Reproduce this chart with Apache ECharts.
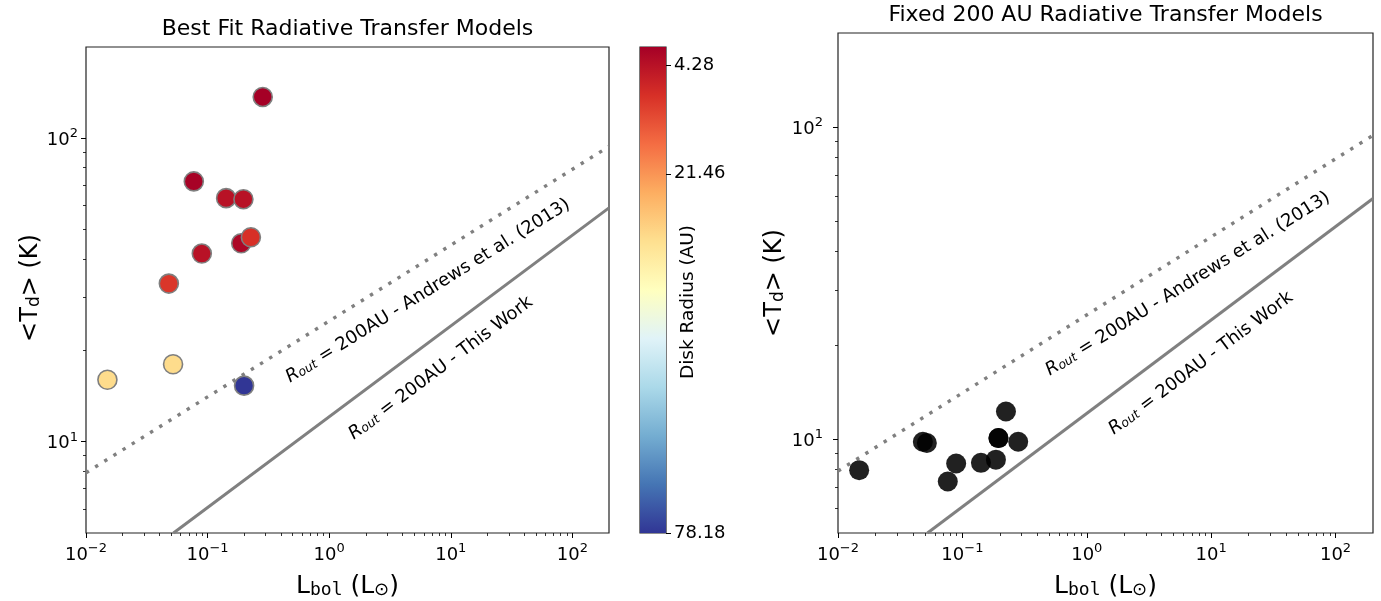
<!DOCTYPE html>
<html>
<head>
<meta charset="utf-8">
<script src="https://cdn.jsdelivr.net/npm/echarts@6.0.0/dist/echarts.min.js"></script>
<style>
  html, body { margin: 0; padding: 0; background: #fff; }
  #chart { width: 1381px; height: 601px; }
</style>
</head>
<body>
<div id="chart"></div>
<script>
// Bolometric luminosity (L_sun), best-fit mean dust temperature (K) and disk radius (AU)
const lumBestFit  = [0.0150, 0.0480, 0.0520, 0.0770, 0.0896, 0.142, 0.189, 0.197, 0.1995, 0.227, 0.284];
const tempBestFit = [16.0, 33.2, 18.0, 72.1, 41.7, 63.5, 45.1, 63.0, 15.3, 47.2, 136.9];
const diskRadius  = [31.5, 9.9, 31.5, 1.8, 4.28, 4.28, 2.5, 4.28, 78.18, 9.1, 1.44];

// Same sources with the outer radius fixed at 200 AU
const lumFixed  = [0.0148, 0.0481, 0.0518, 0.0763, 0.0891, 0.141, 0.186, 0.195, 0.195, 0.224, 0.281];
const tempFixed = [7.95, 9.80, 9.71, 7.31, 8.35, 8.39, 8.59, 10.07, 10.07, 12.25, 9.80];

// R_out = 200 AU relations (straight lines in log-log space)
const andrewsL  = [0.01, 200];
const andrewsT  = [7.9, 94.0];
const thisWorkL = [0.0524, 200];
const thisWorkT = [5.0, 59.0];

// Where the rotated line captions sit (data coordinates)
const andrewsCaptionAt  = [6.3, 32.0];
const thisWorkCaptionAt = [8.0, 17.8];

// Axis extents and tick labels
const lumRange   = [0.01, 200];
const tempRange  = [5, 200];
const lumExps    = [-2, -1, 0, 1, 2];
const tempExps   = [1, 2];
const radiusRange = [1.44, 78.18];
const radiusTicks = [4.28, 21.46, 78.18];
const rdYlBu = ['#a50026', '#d73027', '#f46d43', '#fdae61', '#fee090', '#ffffbf',
                '#e0f3f8', '#abd9e9', '#74add1', '#4575b4', '#313695'];

const FONT = 'DejaVu Sans';
const INK = '#000';
const FRAME = '#222';
const REF_GREY = '#808080';

const grids = [
  { left: 86,  top: 47, width: 523, height: 486 },  // best fit panel
  { left: 838, top: 33, width: 535, height: 500 },  // fixed 200 AU panel
  { left: 640, top: 47, width: 26,  height: 486 }   // colour bar
].map(g => Object.assign({ show: true, borderColor: FRAME, borderWidth: 1.2, backgroundColor: 'transparent', containLabel: false }, g));

function powLabel(v) {
  const e = Math.round(v);
  return '{b|10}{p|' + (e < 0 ? '\u2212' + (-e) : String(e)) + '}';
}
const powRich = {
  b: { fontSize: 18, fontFamily: FONT, color: INK, lineHeight: 22, verticalAlign: 'bottom' },
  p: { fontSize: 13, fontFamily: FONT, color: INK, lineHeight: 13, verticalAlign: 'top' }
};

function minorPositions(range) {
  const lo = Math.log10(range[0]), hi = Math.log10(range[1]);
  const out = [];
  for (let n = Math.floor(lo); n <= Math.ceil(hi); n++) {
    for (let k = 2; k <= 9; k++) {
      const v = n + Math.log10(k);
      if (v > lo + 1e-9 && v < hi - 1e-9) out.push(v);
    }
  }
  return out;
}

// For each panel dimension: a log axis carrying the data, plus two linear
// axes in log10 space that draw the decade ticks/labels and the minor ticks.
function panelAxes(dim, gridIndex, range, exps, labelMargin) {
  const lo = Math.log10(range[0]), hi = Math.log10(range[1]);
  const pos = dim === 'x' ? 'bottom' : 'left';
  const dataAxis = {
    type: 'log', logBase: 10, gridIndex, min: range[0], max: range[1], position: pos,
    axisLine: { show: false, onZero: false }, axisTick: { show: false },
    axisLabel: { show: false }, splitLine: { show: false }
  };
  const majorAxis = {
    type: 'value', gridIndex, min: lo, max: hi, position: pos, silent: true,
    axisLine: { show: false, onZero: false },
    axisTick: { show: true, customValues: exps, length: 5, lineStyle: { color: INK, width: 1 } },
    axisLabel: {
      show: true, customValues: exps, formatter: powLabel, rich: powRich,
      margin: labelMargin
    },
    splitLine: { show: false }
  };
  const minorAxis = {
    type: 'value', gridIndex, min: lo, max: hi, position: pos, silent: true,
    axisLine: { show: false, onZero: false },
    axisTick: { show: true, customValues: minorPositions(range), length: 3, lineStyle: { color: INK, width: 0.8 } },
    axisLabel: { show: false }, splitLine: { show: false }
  };
  return [dataAxis, majorAxis, minorAxis];
}

const xAxes = [
  ...panelAxes('x', 0, lumRange, lumExps, 9),
  ...panelAxes('x', 1, lumRange, lumExps, 9),
  { type: 'value', gridIndex: 2, min: 0, max: 1, show: false }
];
const yAxes = [
  ...panelAxes('y', 0, tempRange, tempExps, 8),
  ...panelAxes('y', 1, tempRange, tempExps, 15),
  {
    type: 'value', gridIndex: 2, min: radiusRange[0], max: radiusRange[1], inverse: true,
    position: 'right', silent: true,
    axisLine: { show: false, onZero: false },
    axisTick: { show: true, customValues: radiusTicks, length: 5, lineStyle: { color: INK, width: 1 } },
    axisLabel: {
      show: true, customValues: radiusTicks, margin: 8,
      formatter: v => v.toFixed(2), fontSize: 18, fontFamily: FONT, color: INK
    },
    splitLine: { show: false }
  }
];

const captionRich = {
  r: { fontSize: 18, fontFamily: FONT, fontStyle: 'italic', color: INK, lineHeight: 24, verticalAlign: 'bottom' },
  s: { fontSize: 12.5, fontFamily: FONT, fontStyle: 'italic', color: INK, lineHeight: 13, verticalAlign: 'bottom' },
  t: { fontSize: 18, fontFamily: FONT, color: INK, lineHeight: 24, verticalAlign: 'bottom' }
};

function caption(at, text, angle) {
  return {
    silent: true,
    symbol: 'circle', symbolSize: 1,
    itemStyle: { color: 'rgba(0,0,0,0)' },
    label: {
      show: true, position: 'inside', rotate: angle,
      formatter: '{r|R}{s|out}{t| = 200AU - ' + text + '}',
      rich: captionRich
    },
    data: [{ coord: at }]
  };
}

function refLines(xi, yi) {
  return [
    {
      type: 'line', xAxisIndex: xi, yAxisIndex: yi, silent: true, z: 1,
      showSymbol: false, symbol: 'none',
      data: andrewsL.map((l, i) => [l, andrewsT[i]]),
      lineStyle: { color: REF_GREY, width: 3.4, type: [3.4, 7.4], cap: 'butt' },
      markPoint: caption(andrewsCaptionAt, 'Andrews et al. (2013)', 32)
    },
    {
      type: 'line', xAxisIndex: xi, yAxisIndex: yi, silent: true, z: 1,
      showSymbol: false, symbol: 'none',
      data: thisWorkL.map((l, i) => [l, thisWorkT[i]]),
      lineStyle: { color: REF_GREY, width: 3 },
      markPoint: caption(thisWorkCaptionAt, 'This Work', 37)
    }
  ];
}

const cbStops = rdYlBu.map((c, i) => ({ offset: i / (rdYlBu.length - 1), color: c }));

const option = {
  backgroundColor: '#fff',
  animation: false,
  grid: grids,
  xAxis: xAxes,
  yAxis: yAxes,
  visualMap: {
    type: 'continuous', show: false, seriesIndex: 0, dimension: 2,
    min: radiusRange[0], max: radiusRange[1],
    inRange: { color: rdYlBu }
  },
  series: [
    {
      type: 'scatter', xAxisIndex: 0, yAxisIndex: 0, z: 3,
      symbolSize: 19,
      itemStyle: { borderColor: '#7f7f7f', borderWidth: 1.6, opacity: 1 },
      data: lumBestFit.map((l, i) => [l, tempBestFit[i], diskRadius[i]])
    },
    ...refLines(0, 0),
    {
      type: 'scatter', xAxisIndex: 3, yAxisIndex: 3, z: 3,
      symbolSize: 20,
      itemStyle: { color: '#000', opacity: 0.87 },
      data: lumFixed.map((l, i) => [l, tempFixed[i]])
    },
    ...refLines(3, 3),
    {
      type: 'custom', xAxisIndex: 6, yAxisIndex: 6, silent: true, z: 0,
      data: [[0, radiusRange[0], 1, radiusRange[1]]],
      renderItem: function (params, api) {
        const a = api.coord([api.value(0), api.value(1)]);
        const b = api.coord([api.value(2), api.value(3)]);
        return {
          type: 'rect',
          shape: {
            x: Math.min(a[0], b[0]), y: Math.min(a[1], b[1]),
            width: Math.abs(b[0] - a[0]), height: Math.abs(b[1] - a[1])
          },
          style: { fill: new echarts.graphic.LinearGradient(0, 0, 0, 1, cbStops) }
        };
      }
    }
  ],
  graphic: [
    {
      type: 'text', x: 347.5, y: 29,
      style: { text: 'Best Fit Radiative Transfer Models', fontSize: 22, fontFamily: FONT, fill: INK, align: 'center', verticalAlign: 'middle' }
    },
    {
      type: 'text', x: 1105.5, y: 15,
      style: { text: 'Fixed 200 AU Radiative Transfer Models', fontSize: 22, fontFamily: FONT, fill: INK, align: 'center', verticalAlign: 'middle' }
    },
    ...[[347.5, 584], [1105.5, 584]].map(p => ({
      type: 'text', x: p[0], y: p[1],
      style: {
        text: '{t|L}{m|bol}{t| (L}{o|\u2299}{t|)}',
        align: 'center', verticalAlign: 'middle', fill: INK,
        rich: {
          t: { fontSize: 25, fontFamily: FONT, fill: INK, lineHeight: 30, verticalAlign: 'bottom' },
          m: { fontSize: 18, fontFamily: 'DejaVu Sans Mono', fill: INK, lineHeight: 15, verticalAlign: 'bottom' },
          o: { fontSize: 18, fontFamily: FONT, fill: INK, lineHeight: 15, verticalAlign: 'bottom' }
        }
      }
    })),
    ...[[28, 288], [772, 283]].map(p => ({
      type: 'text', x: p[0], y: p[1], rotation: Math.PI / 2,
      style: {
        text: '{t|<T}{d|d}{t|> (K)}',
        align: 'center', verticalAlign: 'middle', fill: INK,
        rich: {
          t: { fontSize: 24, fontFamily: FONT, fill: INK, lineHeight: 30, verticalAlign: 'bottom' },
          d: { fontSize: 17, fontFamily: FONT, fill: INK, lineHeight: 15, verticalAlign: 'bottom' }
        }
      }
    })),
    {
      type: 'text', x: 688, y: 302, rotation: Math.PI / 2,
      style: { text: 'Disk Radius (AU)', fontSize: 18.5, fontFamily: FONT, fill: INK, align: 'center', verticalAlign: 'middle' }
    }
  ]
};

const chart = echarts.init(document.getElementById('chart'));
chart.setOption(option);
</script>
</body>
</html>
